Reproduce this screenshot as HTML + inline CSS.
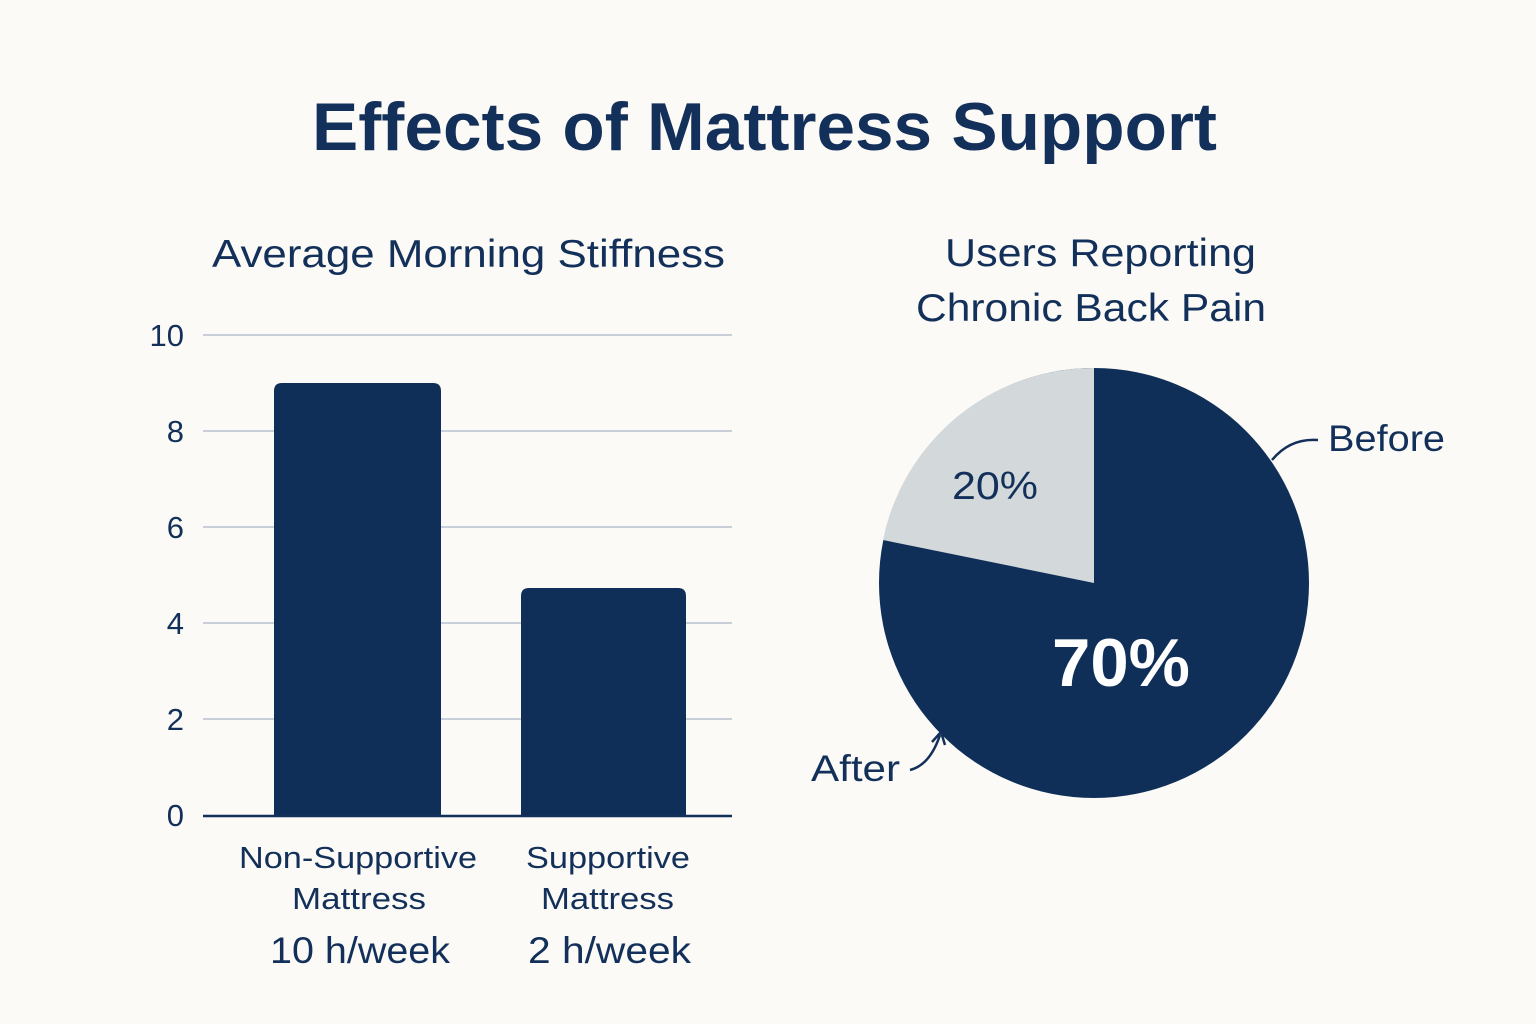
<!DOCTYPE html>
<html><head><meta charset="utf-8"><style>
html,body{margin:0;padding:0;background:#fbfaf6;}
svg{display:block;}
text{font-family:"Liberation Sans","DejaVu Sans",sans-serif;fill:#13305a;}
</style></head><body>
<svg width="1536" height="1024" viewBox="0 0 1536 1024">
<rect width="1536" height="1024" fill="#fbfaf6"/>
<text x="312" y="150" font-size="68" font-weight="bold" textLength="905" lengthAdjust="spacingAndGlyphs">Effects of Mattress Support</text>
<text x="212" y="267" font-size="39" textLength="513" lengthAdjust="spacingAndGlyphs">Average Morning Stiffness</text>
<g stroke="#c9cfd8" stroke-width="2">
<line x1="203" y1="335" x2="732" y2="335"/>
<line x1="203" y1="431" x2="732" y2="431"/>
<line x1="203" y1="527" x2="732" y2="527"/>
<line x1="203" y1="623" x2="732" y2="623"/>
<line x1="203" y1="719" x2="732" y2="719"/>
</g>
<g font-size="31" text-anchor="end">
<text x="184" y="346">10</text>
<text x="184" y="442">8</text>
<text x="184" y="538">6</text>
<text x="184" y="634">4</text>
<text x="184" y="730">2</text>
<text x="184" y="826">0</text>
</g>
<path d="M274 815 V391 Q274 383 282 383 H433 Q441 383 441 391 V815 Z" fill="#0f2f59"/>
<path d="M521 815 V596 Q521 588 529 588 H678 Q686 588 686 596 V815 Z" fill="#0f2f59"/>
<line x1="203" y1="816" x2="732" y2="816" stroke="#13305a" stroke-width="2.5"/>
<g font-size="31" lengthAdjust="spacingAndGlyphs">
<text x="239" y="868" textLength="238" lengthAdjust="spacingAndGlyphs">Non-Supportive</text>
<text x="292" y="909" textLength="134" lengthAdjust="spacingAndGlyphs">Mattress</text>
<text x="526" y="868" textLength="164" lengthAdjust="spacingAndGlyphs">Supportive</text>
<text x="541" y="909" textLength="133" lengthAdjust="spacingAndGlyphs">Mattress</text>
</g>
<g font-size="37">
<text x="270" y="963" textLength="180" lengthAdjust="spacingAndGlyphs">10 h/week</text>
<text x="528" y="963" textLength="163" lengthAdjust="spacingAndGlyphs">2 h/week</text>
</g>
<g font-size="39">
<text x="945" y="266" textLength="311" lengthAdjust="spacingAndGlyphs">Users Reporting</text>
<text x="916" y="321" textLength="350" lengthAdjust="spacingAndGlyphs">Chronic Back Pain</text>
</g>
<circle cx="1094" cy="583" r="215" fill="#0f2f59"/>
<path d="M1094 583 L1094 368 A215 215 0 0 0 883 540 Z" fill="#d3d8db"/>
<text x="952" y="499" font-size="39" textLength="86" lengthAdjust="spacingAndGlyphs">20%</text>
<text x="1052" y="686" font-size="68" font-weight="bold" textLength="138" lengthAdjust="spacingAndGlyphs" style="fill:#fff">70%</text>
<path d="M1272 460 Q1290 438 1318 440" fill="none" stroke="#13305a" stroke-width="2.5"/>
<text x="1328" y="451" font-size="37" textLength="117" lengthAdjust="spacingAndGlyphs">Before</text>
<path d="M910 770 Q930 765 940 735" fill="none" stroke="#13305a" stroke-width="2.5"/>
<path d="M932 742 L941 732 L945 745" fill="none" stroke="#13305a" stroke-width="2.5"/>
<text x="811" y="781" font-size="37" textLength="89" lengthAdjust="spacingAndGlyphs">After</text>
</svg>
</body></html>
